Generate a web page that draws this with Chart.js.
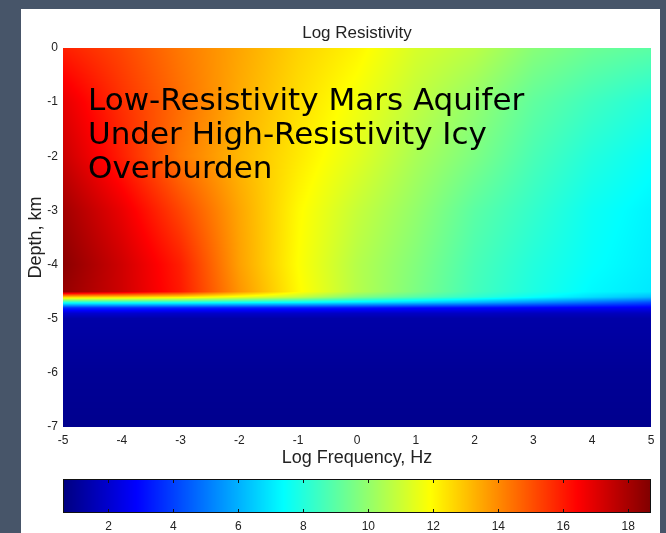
<!DOCTYPE html>
<html>
<head>
<meta charset="utf-8">
<title>Log Resistivity</title>
<script src="https://cdn.jsdelivr.net/npm/chart.js@4.4.1/dist/chart.umd.min.js"></script>
<style>
    html, body { margin: 0; padding: 0; }
    body { width: 666px; height: 533px; background: #475569; position: relative; overflow: hidden; }
    .panel { position: absolute; left: 21px; top: 9px; width: 639px; height: 524px; background: #fff; }
    #map { position: absolute; left: 0; top: 0; }
    #bar { position: absolute; left: 0; top: 470px; }
</style>
</head>
<body>
<div class="panel"></div>
<canvas id="map" width="666" height="470"></canvas>
<canvas id="bar" width="666" height="63"></canvas>
<script>
// --- Data ---
// Log frequency (Hz) columns and depth (km) rows of the model grid
const freqs = [-5, -4, -3, -2, -1, 0, 1, 2, 3, 4, 5];
const depths = [0, -1, -2, -3, -4, -4.5, -4.6, -4.7, -4.8, -4.9, -5, -6, -7];

// Log resistivity at each (depth row, frequency column)
const logRho = [
    [15.9, 15.2, 14.3, 13.5, 12.7, 12.1, 11.2, 10.7, 9.8, 9.3, 9.0],
    [16.9, 15.6, 14.5, 13.4, 12.5, 11.7, 10.8, 10.0, 9.1, 8.5, 8.0],
    [17.4, 15.9, 14.3, 13.2, 12.3, 11.4, 10.4, 9.6, 8.7, 8.0, 7.5],
    [18.1, 16.8, 15.2, 13.5, 12.0, 10.9, 10.0, 9.0, 8.3, 7.6, 7.2],
    [18.5, 17.3, 15.9, 13.6, 11.9, 10.6, 9.7, 8.7, 8.0, 7.45, 7.1],
    [18.3, 17.3, 16.0, 13.8, 12.0, 10.6, 9.6, 8.6, 7.9, 7.3, 7.0],
    [12.8, 12.7, 12.4, 11.6, 10.8, 9.6, 8.9, 8.2, 7.5, 6.8, 6.2],
    [7.8, 7.8, 7.7, 7.5, 7.3, 6.9, 6.5, 6.0, 5.4, 4.8, 4.2],
    [3.6, 3.6, 3.5, 3.4, 3.3, 3.2, 3.0, 2.9, 2.8, 2.7, 2.6],
    [2.0, 2.0, 1.9, 1.9, 1.9, 1.8, 1.8, 1.8, 1.7, 1.7, 1.7],
    [1.3, 1.3, 1.3, 1.3, 1.3, 1.3, 1.3, 1.3, 1.3, 1.3, 1.3],
    [1.0, 1.0, 1.0, 1.0, 1.0, 1.0, 1.0, 1.0, 1.0, 1.0, 1.0],
    [0.85, 0.85, 0.85, 0.85, 0.85, 0.85, 0.85, 0.85, 0.85, 0.85, 0.85]
];

const xTicks = [-5, -4, -3, -2, -1, 0, 1, 2, 3, 4, 5];
const yTicks = [0, -1, -2, -3, -4, -5, -6, -7];
const cbTicks = [2, 4, 6, 8, 10, 12, 14, 16, 18];
const cbMin = 0.6;
const cbMax = 18.7;

const noteLines = ['Low-Resistivity Mars Aquifer', 'Under High-Resistivity Icy', 'Overburden'];

// --- Helpers ---
const FONT = '"Liberation Sans", Arial, sans-serif';
const TEXT = '#222';

const clamp01 = v => Math.min(1, Math.max(0, v));

// MATLAB-style jet colormap, t in [0, 1]
function jet(t) {
    t = clamp01(t);
    const c = k => Math.round(255 * clamp01(1.5 - Math.abs(4 * t - k)));
    return [c(3), c(2), c(1)];
}

// bilinear shading between grid nodes (like pcolor with shading interp)
function sample(f, d) {
    let j = 0;
    while (j < freqs.length - 2 && f > freqs[j + 1]) j++;
    let i = 0;
    while (i < depths.length - 2 && d < depths[i + 1]) i++;
    const u = clamp01((f - freqs[j]) / (freqs[j + 1] - freqs[j]));
    const w = clamp01((d - depths[i]) / (depths[i + 1] - depths[i]));
    const a = logRho[i][j] + (logRho[i][j + 1] - logRho[i][j]) * u;
    const b = logRho[i + 1][j] + (logRho[i + 1][j + 1] - logRho[i + 1][j]) * u;
    return a + (b - a) * w;
}

function setTicks(values) {
    return scale => { scale.ticks = values.map(v => ({ value: v })); };
}

// --- Plugins ---
const heatmapPlugin = {
    id: 'heatmap',
    beforeDatasetsDraw(chart) {
        const { ctx, scales: { x, y } } = chart;
        const x0 = Math.round(x.getPixelForValue(freqs[0]));
        const x1 = Math.round(x.getPixelForValue(freqs[freqs.length - 1]));
        const y0 = Math.round(y.getPixelForValue(depths[0]));
        const y1 = Math.round(y.getPixelForValue(depths[depths.length - 1]));
        const w = x1 - x0, h = y1 - y0;

        const off = document.createElement('canvas');
        off.width = w;
        off.height = h;
        const octx = off.getContext('2d');
        const img = octx.createImageData(w, h);
        for (let py = 0; py < h; py++) {
            const d = y.getValueForPixel(y0 + py + 0.5);
            for (let px = 0; px < w; px++) {
                const f = x.getValueForPixel(x0 + px + 0.5);
                const [r, g, b] = jet((sample(f, d) - cbMin) / (cbMax - cbMin));
                const k = (py * w + px) * 4;
                img.data[k] = r;
                img.data[k + 1] = g;
                img.data[k + 2] = b;
                img.data[k + 3] = 255;
            }
        }
        octx.putImageData(img, 0, 0);
        ctx.drawImage(off, x0, y0);
    }
};

const notePlugin = {
    id: 'note',
    afterDatasetsDraw(chart) {
        const { ctx, chartArea } = chart;
        ctx.save();
        ctx.font = '31px "DejaVu Sans", Verdana, sans-serif';
        ctx.fillStyle = '#000';
        ctx.textAlign = 'left';
        ctx.textBaseline = 'alphabetic';
        noteLines.forEach((line, i) => {
            ctx.fillText(line, chartArea.left + 25, chartArea.top + 62 + i * 34);
        });
        ctx.restore();
    }
};

const colorbarPlugin = {
    id: 'colorbar',
    beforeDatasetsDraw(chart) {
        const { ctx, chartArea: a, scales: { x } } = chart;
        ctx.save();
        for (let px = Math.floor(a.left); px < Math.ceil(a.right); px++) {
            const [r, g, b] = jet((x.getValueForPixel(px + 0.5) - cbMin) / (cbMax - cbMin));
            ctx.fillStyle = `rgb(${r},${g},${b})`;
            ctx.fillRect(px, a.top, 1, a.bottom - a.top);
        }
        // ticks inside the bar, top and bottom
        ctx.strokeStyle = '#111';
        ctx.lineWidth = 1;
        ctx.beginPath();
        cbTicks.forEach(v => {
            const px = Math.round(x.getPixelForValue(v)) + 0.5;
            ctx.moveTo(px, a.top);
            ctx.lineTo(px, a.top + 4);
            ctx.moveTo(px, a.bottom);
            ctx.lineTo(px, a.bottom - 4);
        });
        ctx.stroke();
        ctx.strokeRect(Math.round(a.left) + 0.5, Math.round(a.top) + 0.5,
            Math.round(a.right - a.left) - 1, Math.round(a.bottom - a.top) - 1);
        ctx.restore();
    }
};

// --- Charts ---
const tickFont = { family: FONT, size: 12 };

new Chart(document.getElementById('map'), {
    type: 'scatter',
    data: {
        datasets: [{
            data: depths.flatMap((d, i) => freqs.map((f, j) => ({ x: f, y: d, v: logRho[i][j] }))),
            pointRadius: 0
        }]
    },
    options: {
        responsive: false,
        animation: false,
        events: [],
        layout: { padding: { left: 21, right: 15, top: 0, bottom: 0 } },
        plugins: {
            legend: { display: false },
            tooltip: { enabled: false },
            title: {
                display: true,
                text: 'Log Resistivity',
                fullSize: false,
                color: TEXT,
                font: { family: FONT, size: 17, weight: 'normal' },
                padding: { top: 23, bottom: 4.6 }
            }
        },
        scales: {
            x: {
                type: 'linear',
                min: -5,
                max: 5,
                afterBuildTicks: setTicks(xTicks),
                afterFit: s => { s.height = 43; },
                grid: { display: false, drawTicks: false },
                border: { display: false },
                ticks: { color: TEXT, font: tickFont, padding: 6, maxRotation: 0, autoSkip: false },
                title: {
                    display: true,
                    text: 'Log Frequency, Hz',
                    color: TEXT,
                    font: { family: FONT, size: 18 },
                    padding: { top: 0, bottom: 1 }
                }
            },
            y: {
                type: 'linear',
                min: -7,
                max: 0,
                afterBuildTicks: setTicks(yTicks),
                afterFit: s => { s.width = 42; },
                grid: { display: false, drawTicks: false },
                border: { display: false },
                ticks: { color: TEXT, font: tickFont, padding: 5, autoSkip: false },
                title: {
                    display: true,
                    text: 'Depth, km',
                    color: TEXT,
                    font: { family: FONT, size: 18 },
                    padding: { top: 4, bottom: 0 }
                }
            }
        }
    },
    plugins: [heatmapPlugin, notePlugin]
});

new Chart(document.getElementById('bar'), {
    type: 'scatter',
    data: {
        datasets: [{ data: cbTicks.map(v => ({ x: v, y: 0.5 })), pointRadius: 0 }]
    },
    options: {
        responsive: false,
        animation: false,
        events: [],
        layout: { padding: { left: 63, right: 15, top: 9, bottom: 0 } },
        plugins: {
            legend: { display: false },
            tooltip: { enabled: false }
        },
        scales: {
            x: {
                type: 'linear',
                min: cbMin,
                max: cbMax,
                afterBuildTicks: setTicks(cbTicks),
                afterFit: s => { s.height = 20; },
                grid: { display: false, drawTicks: false },
                border: { display: false },
                ticks: { color: TEXT, font: tickFont, padding: 6, maxRotation: 0, autoSkip: false }
            },
            y: { display: false, min: 0, max: 1 }
        }
    },
    plugins: [colorbarPlugin]
});
</script>
</body>
</html>
